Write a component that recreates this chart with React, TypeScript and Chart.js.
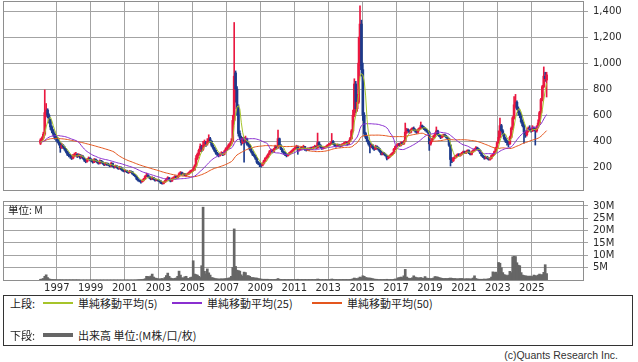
import React, { useEffect, useRef } from "react";
import { Chart, registerables } from "chart.js";

Chart.register(...registerables);

// ---------- data ----------
const START_YEAR = 1996; // first monthly candle: Jan 1996
const X_MIN = 1993.83;
const X_MAX = 2028.02;

const yearTicks = [1997, 1999, 2001, 2003, 2005, 2007, 2009, 2011, 2013, 2015, 2017, 2019, 2021, 2023, 2025];
const priceTicks = [200, 400, 600, 800, 1000, 1200, 1400];
const volumeTicks = [5, 10, 15, 20, 25, 30];

// monthly closes before the plotted range (Dec 1991 - Dec 1995), used only to seed the moving averages
const priorCloses = [
  400, 410, 420, 405, 395, 390, 400, 410, 415, 405, 395, 400,
  410, 420, 415, 405, 400, 395, 390, 400, 410, 405, 395, 390,
  400, 410, 405, 400, 395, 390, 385, 395, 405, 400, 395, 390,
  395, 400, 405, 400, 395, 390, 385, 390, 395, 390, 385, 380, 385,
];

// monthly candles [open, high, low, close]
const candles1996to2005 = [
  [385,420,375,410],[410,435,400,425],[425,470,415,455],[455,795,445,620],[620,690,590,640],[640,650,580,600],[600,610,540,560],[560,570,490,510],[510,520,465,480],[480,490,440,455],[455,465,415,430],[430,445,400,420],
  [420,430,390,400],[400,410,370,380],[380,390,315,350],[350,385,345,370],[370,375,345,355],[355,360,330,340],[340,345,310,320],[320,325,290,300],[300,310,280,290],[290,300,270,285],[285,290,260,270],[270,300,265,290],
  [290,310,280,295],[295,315,285,300],[300,305,275,285],[285,305,280,295],[295,298,265,275],[275,295,270,285],[285,290,262,270],[270,275,245,255],[255,260,235,245],[245,268,240,260],[260,280,255,270],[270,275,250,260],
  [260,265,242,250],[250,255,232,240],[240,268,236,260],[260,265,244,250],[250,255,234,240],[240,245,224,230],[230,258,226,250],[250,254,234,240],[240,245,224,230],[230,235,212,220],[220,238,216,230],[230,234,214,220],
  [222,232,212,220],[220,224,204,210],[210,238,206,230],[230,234,204,210],[210,214,194,200],[200,218,196,210],[210,214,194,200],[200,204,184,190],[190,208,186,200],[200,204,180,185],[185,190,170,175],[175,180,164,170],
  [170,182,166,175],[175,178,160,165],[165,170,154,160],[160,176,156,170],[170,174,160,165],[165,168,146,150],[150,154,136,140],[140,145,126,130],[130,134,104,110],[110,114,94,100],[100,104,88,95],[95,98,78,90],
  [90,104,86,100],[100,116,96,110],[110,136,106,130],[130,156,126,140],[140,145,124,130],[130,134,114,120],[120,124,104,110],[110,128,106,120],[120,123,104,110],[110,114,94,100],[100,110,96,105],[105,108,94,100],
  [100,104,90,95],[95,98,76,80],[80,84,71,75],[75,90,72,85],[85,100,82,95],[95,116,92,110],[110,128,106,120],[120,122,96,100],[100,104,88,95],[95,120,92,115],[115,126,110,120],[120,136,116,130],
  [130,134,114,120],[120,136,116,130],[130,158,126,150],[150,168,146,160],[160,164,140,145],[145,156,140,150],[150,154,136,140],[140,150,136,145],[145,156,140,150],[150,166,146,160],[160,178,156,170],[170,182,164,175],
  [175,200,170,180],[180,220,176,210],[210,290,205,270],[270,310,260,300],[300,340,290,330],[330,380,320,360],[360,370,320,340],[340,400,330,370],[370,410,360,390],[390,400,360,380],[380,420,370,400],[400,450,390,420],
];
const candles2006to2015 = [
  [420,430,390,400],[400,405,360,370],[370,375,340,350],[350,355,320,330],[330,335,300,310],[310,315,290,300],[300,305,280,290],[290,310,285,300],[300,320,295,310],[310,315,290,300],[300,330,295,320],[320,350,315,340],
  [340,360,330,350],[350,380,345,370],[370,390,360,380],[380,420,370,400],[400,600,395,560],[560,1312,540,900],[925,940,700,800],[800,820,600,650],[650,680,440,460],[460,480,410,430],[430,440,370,390],[390,430,380,420],
  [420,430,240,400],[400,440,390,420],[420,425,370,380],[380,390,360,370],[370,375,330,340],[340,345,310,320],[320,325,290,300],[300,305,280,290],[290,295,260,270],[270,275,230,240],[240,245,220,230],[230,235,205,220],
  [220,225,202,215],[215,235,210,230],[230,255,225,250],[250,275,245,270],[270,290,265,280],[280,305,275,300],[300,330,295,320],[320,340,315,330],[330,335,310,320],[320,345,315,340],[340,370,335,360],[360,365,340,350],
  [350,486,345,420],[420,425,365,370],[370,375,335,340],[340,345,315,320],[320,325,300,310],[310,315,290,300],[300,305,280,290],[290,305,285,300],[300,315,295,310],[310,325,305,320],[320,335,315,330],[330,345,325,340],
  [340,355,335,350],[350,370,345,360],[360,365,300,330],[330,345,325,340],[340,355,335,350],[350,355,340,345],[345,370,340,360],[360,362,330,340],[340,345,325,335],[335,350,330,345],[345,350,330,340],[340,355,335,350],
  [350,355,335,345],[345,360,340,355],[355,370,350,360],[360,365,345,350],[350,463,345,390],[390,395,365,370],[370,375,350,355],[355,358,338,345],[345,356,340,350],[350,360,345,355],[355,365,350,360],[360,375,355,370],
  [370,385,365,375],[375,390,370,380],[380,460,375,400],[400,405,375,380],[380,385,360,370],[370,375,355,365],[365,380,360,375],[375,378,362,370],[370,372,355,365],[365,380,360,375],[375,385,370,380],[380,395,375,390],
  [388,400,380,390],[390,395,370,380],[380,405,375,400],[400,430,395,420],[420,490,415,480],[480,640,470,600],[600,880,590,840],[840,860,620,650],[650,760,630,700],[700,1200,690,1000],[1000,1440,980,1300],[1300,1330,900,950],
  [950,1000,560,600],[600,620,440,460],[460,470,420,430],[430,440,395,400],[400,410,370,380],[380,390,310,360],[360,380,350,370],[370,375,340,350],[350,355,330,340],[340,370,335,360],[360,365,340,350],[350,355,330,340],
];
const candles2016to2025 = [
  [340,345,315,320],[320,325,295,300],[300,315,295,310],[310,315,295,300],[300,305,285,290],[290,295,256,270],[270,285,265,280],[280,295,275,290],[290,305,285,300],[300,315,295,310],[310,345,305,340],[340,365,335,360],
  [360,375,355,370],[370,385,365,380],[380,385,360,370],[370,395,365,390],[390,395,375,380],[380,405,375,400],[400,540,395,470],[470,500,460,490],[490,495,470,480],[480,485,460,470],[470,495,465,490],[490,505,485,500],
  [500,510,480,490],[490,495,470,480],[480,485,460,470],[470,495,465,490],[490,505,485,500],[500,548,495,520],[520,525,500,510],[510,515,490,500],[500,505,480,490],[490,495,470,480],[480,485,460,470],[470,475,330,380],
  [380,405,370,400],[400,425,395,420],[420,445,415,440],[440,465,435,460],[460,510,455,480],[480,485,445,450],[450,455,435,440],[440,445,420,430],[430,445,425,440],[440,455,435,450],[450,455,435,440],[440,445,425,430],
  [430,435,410,420],[420,425,360,370],[370,375,210,260],[260,275,235,250],[250,275,245,270],[270,290,265,280],[280,295,275,290],[290,305,285,300],[300,305,285,290],[290,305,285,300],[300,315,295,310],[310,325,305,320],
  [320,325,305,310],[310,325,305,320],[320,335,315,330],[330,335,305,310],[310,315,295,300],[300,325,295,320],[320,335,315,330],[330,345,325,340],[340,360,335,350],[350,355,335,340],[340,345,325,330],[330,335,305,310],
  [310,315,285,290],[290,295,275,280],[280,285,262,270],[270,285,265,280],[280,285,265,270],[270,275,255,260],[260,275,255,270],[270,295,265,290],[290,305,285,300],[300,325,295,320],[320,355,315,350],[350,395,345,390],
  [390,480,385,430],[430,578,425,520],[520,530,470,480],[480,490,440,450],[450,460,410,420],[420,430,390,400],[400,410,370,390],[390,400,356,380],[380,440,375,430],[430,510,425,500],[500,590,490,580],[580,743,570,680],
  [680,760,660,700],[700,710,640,650],[650,664,600,620],[620,630,580,600],[600,610,540,550],[550,564,510,520],[520,530,386,470],[470,480,430,450],[450,490,440,480],[480,510,470,500],[500,520,480,490],[490,500,470,480],
  [480,520,475,500],[500,510,480,490],[490,500,371,480],[480,520,470,510],[510,564,500,540],[540,630,530,620],[620,730,610,720],[720,830,710,820],[820,971,810,900],[900,930,860,880],[870,930,740,910],
];

// monthly volume, millions
const volumes1996to2005 = [
  0.3,0.4,0.6,1.5,2.1,1.0,0.5,0.3,0.2,0.2,0.2,0.1,
  0.15,0.1,0.15,0.1,0.1,0.1,0.1,0.1,0.1,0.1,0.1,0.1,
  0.1,0.1,0.1,0.1,0.05,0.05,0.05,0.05,0.05,0.05,0.05,0.05,
  0.05,0.05,0.05,0.05,0.05,0.05,0.05,0.05,0.05,0.05,0.05,0.05,
  0.05,0.05,0.05,0.05,0.05,0.05,0.05,0.05,0.05,0.05,0.05,0.05,
  0.05,0.05,0.05,0.05,0.05,0.05,0.05,0.05,0.1,0.1,0.2,0.2,
  0.2,0.3,0.5,1.5,1.4,1.3,1.6,2.4,1.2,0.8,0.7,0.5,
  0.4,0.5,0.6,0.5,1.0,1.8,2.8,1.5,0.8,0.6,0.5,0.7,
  0.8,1.5,3.6,2.0,0.9,0.8,1.3,1.5,0.7,0.6,1.0,1.2,
  7.8,2.4,2.2,2.0,1.5,1.0,5.8,29.5,3.5,2.5,4.5,2.9,
];
const volumes2006to2015 = [
  2.0,1.0,0.9,0.7,0.5,0.5,0.4,0.4,0.5,0.4,0.5,0.6,
  0.6,0.8,0.9,1.5,5.1,20.7,5.5,4.0,3.8,3.6,2.1,1.5,
  3.2,3.0,1.7,1.8,1.5,1.0,1.0,0.9,0.8,0.8,0.6,0.5,
  0.4,0.3,0.3,0.3,0.3,0.3,0.2,0.2,0.2,0.2,0.2,0.3,
  0.6,0.3,0.2,0.2,0.2,0.2,0.2,0.2,0.2,0.2,0.2,0.2,
  0.2,0.2,0.3,0.2,0.2,0.2,0.2,0.2,0.2,0.2,0.2,0.2,
  0.2,0.2,0.2,0.2,0.4,0.3,0.2,0.2,0.2,0.2,0.2,0.2,
  0.2,0.2,0.4,0.3,0.2,0.2,0.2,0.2,0.2,0.2,0.2,0.2,
  0.2,0.2,0.2,0.2,0.3,0.5,0.8,0.6,0.5,0.8,1.2,1.0,
  1.7,1.5,1.0,0.9,0.8,0.8,0.7,0.5,0.4,0.3,0.3,0.2,
];
const volumes2016to2025 = [
  0.2,0.2,0.2,0.2,0.2,0.3,0.2,0.2,0.2,0.2,0.3,0.4,
  0.4,0.9,1.0,1.2,1.0,1.7,4.3,1.2,0.8,0.6,0.7,0.9,
  1.7,1.2,1.0,0.8,0.9,1.0,0.8,0.7,1.4,0.8,0.6,0.7,
  0.5,0.6,0.8,1.4,1.3,1.2,1.0,0.8,0.7,0.6,0.6,0.6,
  0.6,0.7,0.8,0.7,0.6,0.6,0.5,0.5,0.5,0.6,0.6,0.5,
  0.4,0.5,0.5,0.5,0.4,0.5,0.8,1.7,0.6,0.4,0.3,0.3,
  0.3,0.3,0.4,0.3,0.4,0.5,0.6,1.2,3.3,3.0,3.2,2.5,
  7.1,6.8,5.0,3.0,2.2,2.0,1.5,2.0,3.5,3.0,9.4,9.6,
  9.5,7.0,6.0,5.8,3.0,2.0,1.8,1.7,1.6,1.5,1.6,1.5,
  1.4,2.0,1.8,1.6,2.0,2.4,2.0,2.2,3.1,6.2,2.6,
];

const maPeriods = [5, 25, 50];
const maColors = ["#a6c42a", "#8a2fd0", "#e4561e"];
const maLabels = ["単純移動平均(5)", "単純移動平均(25)", "単純移動平均(50)"];

// ---------- styles ----------
const UP = "#ea1840";
const DOWN = "#1d3a8c";
const GRID = "#a3a3a3";
const FRAME = "#8e8e8e";
const VOL = "#666666";
const AXIS_FONT = { family: "'DejaVu Sans', Verdana, sans-serif", size: 10 };
const AXIS_COLOR = "#2a2a2a";
const JP = "'Noto Sans CJK JP', 'Noto Sans', sans-serif";

function movingAverage(prior: number[], closes: number[], n: number): number[] {
  const all = prior.concat(closes);
  const out: number[] = [];
  for (let i = prior.length; i < all.length; i++) {
    let s = 0;
    let k = 0;
    for (let j = Math.max(0, i - n + 1); j <= i; j++) {
      s += all[j];
      k++;
    }
    out.push(s / k);
  }
  return out;
}

const framePlugin = {
  id: "panelFrame",
  beforeDatasetsDraw(chart: any) {
    const { ctx, chartArea: a } = chart;
    ctx.save();
    ctx.strokeStyle = FRAME;
    ctx.lineWidth = 1;
    const l = Math.round(a.left) + 0.5;
    const t = Math.round(a.top) + 0.5;
    const r = Math.round(a.right) + 0.5;
    const b = Math.round(a.bottom) + 0.5;
    ctx.strokeRect(l, t, r - l, b - t);
    ctx.restore();
  },
};

function xScale(showLabels: boolean, height: number) {
  return {
    type: "linear",
    min: X_MIN,
    max: X_MAX,
    offset: false,
    border: { display: false },
    grid: { color: GRID, drawTicks: false, offset: false, lineWidth: 1 },
    ticks: {
      display: showLabels,
      font: AXIS_FONT,
      color: AXIS_COLOR,
      padding: 2,
      maxRotation: 0,
      autoSkip: false,
      callback: (v: any) => String(v),
    },
    afterBuildTicks: (s: any) => {
      s.ticks = yearTicks.map((v) => ({ value: v }));
    },
    afterFit: (s: any) => {
      s.height = height;
      s.paddingLeft = 0;
      s.paddingRight = 0;
    },
  };
}

function yScale(min: number, max: number, ticks: number[], fmt: (v: number) => string) {
  return {
    type: "linear",
    position: "right",
    min,
    max,
    border: { display: false },
    grid: { color: GRID, tickLength: 5, lineWidth: 1 },
    ticks: {
      font: AXIS_FONT,
      color: AXIS_COLOR,
      padding: 5,
      callback: (v: any) => fmt(Number(v)),
    },
    afterBuildTicks: (s: any) => {
      s.ticks = ticks.map((v) => ({ value: v }));
    },
    afterFit: (s: any) => {
      s.width = 55;
      s.paddingTop = 0;
      s.paddingBottom = 0;
    },
  };
}

export default function App() {
  const priceRef = useRef<HTMLCanvasElement>(null);
  const volRef = useRef<HTMLCanvasElement>(null);

  useEffect(() => {
    const candles = [...candles1996to2005, ...candles2006to2015, ...candles2016to2025];
    const volumes = [...volumes1996to2005, ...volumes2006to2015, ...volumes2016to2025];
    const times = candles.map((_, i) => START_YEAR + (i + 0.5) / 12);
    const closes = candles.map((c) => c[3]);
    const colors = candles.map((c) => (c[3] >= c[0] ? UP : DOWN));

    const maSets = maPeriods.map((n, k) => {
      const ma = movingAverage(priorCloses, closes, n);
      return {
        type: "line",
        label: maLabels[k],
        data: ma.map((y, i) => ({ x: times[i], y })),
        borderColor: maColors[k],
        borderWidth: 1,
        pointRadius: 0,
        tension: 0,
        order: k,
      };
    });

    const common = {
      responsive: false,
      animation: false,
      devicePixelRatio: 1,
      events: [],
      plugins: { legend: { display: false }, tooltip: { enabled: false }, title: { display: false } },
    };

    const priceChart = new Chart(priceRef.current as HTMLCanvasElement, {
      type: "bar",
      data: {
        datasets: [
          ...maSets,
          {
            type: "bar",
            label: "body",
            data: candles.map((c, i) => ({ x: times[i], y: [c[0], c[3]] })),
            backgroundColor: colors,
            borderWidth: 0,
            barThickness: 2,
            grouped: false,
            order: 10,
          },
          {
            type: "bar",
            label: "wick",
            data: candles.map((c, i) => ({ x: times[i], y: [c[2], c[1]] })),
            backgroundColor: colors,
            borderWidth: 0,
            barThickness: 1,
            grouped: false,
            order: 11,
          },
        ] as any,
      },
      options: {
        ...common,
        layout: { padding: { left: 3, top: 1, right: 0, bottom: 1 } },
        scales: {
          x: xScale(false, 0),
          y: yScale(26, 1477, priceTicks, (v) => v.toLocaleString("en-US")),
        },
      } as any,
      plugins: [framePlugin],
    });

    const volChart = new Chart(volRef.current as HTMLCanvasElement, {
      type: "bar",
      data: {
        datasets: [
          {
            label: "volume",
            data: volumes.map((v, i) => ({ x: times[i], y: v })),
            backgroundColor: VOL,
            borderWidth: 0,
            barThickness: 2,
            grouped: false,
          },
        ] as any,
      },
      options: {
        ...common,
        layout: { padding: { left: 3, top: 6, right: 0, bottom: 0 } },
        scales: {
          x: xScale(true, 15),
          y: yScale(0, 32, volumeTicks, (v) => v + "M"),
        },
      } as any,
      plugins: [framePlugin],
    });

    return () => {
      priceChart.destroy();
      volChart.destroy();
    };
  }, []);

  const txt: React.CSSProperties = {
    position: "absolute",
    fontFamily: JP,
    fontSize: 11,
    lineHeight: "14px",
    color: "#222",
    whiteSpace: "nowrap",
  };
  const row1 = 303;
  const row2 = 335;
  const lineLefts = [43, 172, 312];
  const textLefts = [78, 207, 347];

  return (
    <div
      style={{
        position: "absolute",
        left: 0,
        top: 0,
        width: 638,
        height: 362,
        background: "#fff",
        overflow: "hidden",
      }}
    >
      <canvas ref={priceRef} width={638} height={191} style={{ position: "absolute", left: 0, top: 0, display: "block" }} />
      <canvas ref={volRef} width={638} height={100} style={{ position: "absolute", left: 0, top: 195, display: "block" }} />
      <div style={{ ...txt, fontSize: 10.5, left: 8, top: 203 }}>単位: M</div>

      <div
        style={{
          position: "absolute",
          left: 3,
          top: 295,
          width: 630,
          height: 51,
          border: "1px solid #333",
          boxSizing: "border-box",
        }}
      />
      <div style={{ ...txt, left: 10, top: row1 - 7 }}>上段:</div>
      {maLabels.map((lab, k) => (
        <React.Fragment key={lab}>
          <div
            style={{
              position: "absolute",
              left: lineLefts[k],
              top: row1 - 1,
              width: 30,
              height: 2,
              backgroundColor: maColors[k],
            }}
          />
          <div style={{ ...txt, left: textLefts[k], top: row1 - 7 }}>{lab}</div>
        </React.Fragment>
      ))}
      <div style={{ ...txt, left: 10, top: row2 - 7 }}>下段:</div>
      <div style={{ position: "absolute", left: 43, top: row2 - 2, width: 30, height: 4, backgroundColor: VOL }} />
      <div style={{ ...txt, left: 78, top: row2 - 7 }}>出来高 単位:(M株/口/枚)</div>

      <div
        style={{
          position: "absolute",
          right: 20,
          top: 349,
          fontFamily: "'Liberation Sans', Arial, sans-serif",
          fontSize: 10.5,
          lineHeight: "13px",
          color: "#333",
          whiteSpace: "nowrap",
        }}
      >
        (c)Quants Research Inc.
      </div>
    </div>
  );
}
